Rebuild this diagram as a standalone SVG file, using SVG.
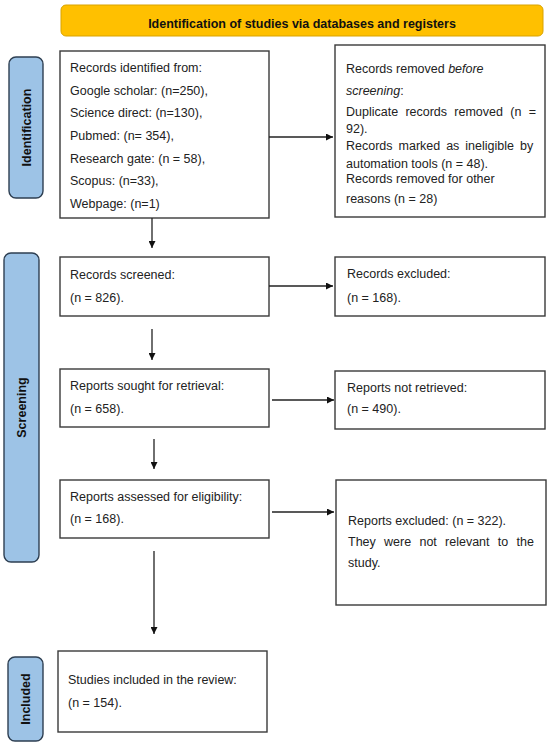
<svg xmlns="http://www.w3.org/2000/svg" width="550" height="746" viewBox="0 0 550 746">
<defs>
<marker id="ah" viewBox="0 0 10 10" refX="10" refY="5" markerWidth="8" markerHeight="7" markerUnits="userSpaceOnUse" orient="auto">
<path d="M0,0 L10,5 L0,10 z" fill="#111"/>
</marker>
<style>
.bx{fill:#fff;stroke:#3a3a3a;stroke-width:1.4}
.lab{fill:#9dc3e6;stroke:#2e3f52;stroke-width:1.4}
.t{font-family:"Liberation Sans",Arial,sans-serif;font-size:12.5px;fill:#222}
.b{font-family:"Liberation Sans",Arial,sans-serif;font-size:12.5px;font-weight:bold;fill:#111}
.c line{stroke:#222;stroke-width:1.3;marker-end:url(#ah)}
</style>
</defs>
<rect width="550" height="746" fill="#fff"/>
<g id="header">
<rect x="61" y="5" width="482" height="31" rx="5" fill="#ffc000" stroke="#d9a300" stroke-width="1"/>
<text class="b" x="302" y="28" text-anchor="middle">Identification of studies via databases and registers</text>
</g>
<g id="lab-identification">
<rect class="lab" x="9" y="57" width="34" height="141" rx="7"/>
<text class="b" transform="translate(31,127.5) rotate(-90)" text-anchor="middle">Identification</text>
</g>
<g id="lab-screening">
<rect class="lab" x="4" y="253" width="35" height="309" rx="7"/>
<text class="b" transform="translate(26,407.5) rotate(-90)" text-anchor="middle">Screening</text>
</g>
<g id="lab-included">
<rect class="lab" x="8" y="657" width="35" height="84" rx="7"/>
<text class="b" transform="translate(30,699) rotate(-90)" text-anchor="middle">Included</text>
</g>
<g id="n-identified">
<rect class="bx" x="60" y="51" width="209" height="167"/>
<text class="t" x="70" y="72">Records identified from:</text>
<text class="t" x="70" y="95">Google scholar: (n=250),</text>
<text class="t" x="70" y="117">Science direct: (n=130),</text>
<text class="t" x="70" y="140">Pubmed: (n= 354),</text>
<text class="t" x="70" y="163">Research gate: (n = 58),</text>
<text class="t" x="70" y="185">Scopus: (n=33),</text>
<text class="t" x="70" y="208">Webpage: (n=1)</text>
</g>
<g id="n-removed">
<rect class="bx" x="335" y="45" width="210" height="172"/>
<text class="t" x="346" y="73">Records removed <tspan font-style="italic">before</tspan></text>
<text class="t" x="346" y="95"><tspan font-style="italic">screening</tspan>:</text>
<text class="t" x="346" y="116" word-spacing="3.8">Duplicate records removed (n =</text>
<text class="t" x="346" y="133">92).</text>
<text class="t" x="346" y="150" word-spacing="2.5">Records marked as ineligible by</text>
<text class="t" x="346" y="168">automation tools (n = 48).</text>
<text class="t" x="346" y="183">Records removed for other</text>
<text class="t" x="346" y="203">reasons (n = 28)</text>
</g>
<g id="n-screened">
<rect class="bx" x="60" y="257" width="209" height="59"/>
<text class="t" x="70" y="279">Records screened:</text>
<text class="t" x="70" y="302">(n = 826).</text>
</g>
<g id="n-excluded">
<rect class="bx" x="335" y="257" width="210" height="59"/>
<text class="t" x="347" y="278">Records excluded:</text>
<text class="t" x="347" y="302">(n = 168).</text>
</g>
<g id="n-sought">
<rect class="bx" x="60" y="369" width="209" height="58"/>
<text class="t" x="70" y="390">Reports sought for retrieval:</text>
<text class="t" x="70" y="413">(n = 658).</text>
</g>
<g id="n-notretrieved">
<rect class="bx" x="335" y="371" width="210" height="58"/>
<text class="t" x="347" y="392">Reports not retrieved:</text>
<text class="t" x="347" y="413">(n = 490).</text>
</g>
<g id="n-assessed">
<rect class="bx" x="60" y="480" width="209" height="58"/>
<text class="t" x="70" y="501">Reports assessed for eligibility:</text>
<text class="t" x="70" y="523">(n = 168).</text>
</g>
<g id="n-reportsexcluded">
<rect class="bx" x="336" y="480" width="210" height="125"/>
<text class="t" x="348" y="525">Reports excluded: (n = 322).</text>
<text class="t" x="348" y="546" word-spacing="4.8">They were not relevant to the</text>
<text class="t" x="348" y="567">study.</text>
</g>
<g id="n-included">
<rect class="bx" x="58" y="651" width="209" height="81"/>
<text class="t" x="68" y="684">Studies included in the review:</text>
<text class="t" x="68" y="707">(n = 154).</text>
</g>
<g id="connectors" class="c">
<line x1="269" y1="137" x2="333" y2="137"/>
<line x1="152" y1="218" x2="152" y2="248"/>
<line x1="269" y1="286" x2="333" y2="286"/>
<line x1="152" y1="329" x2="152" y2="360"/>
<line x1="272" y1="400" x2="334" y2="400"/>
<line x1="154" y1="439" x2="154" y2="469"/>
<line x1="272" y1="512" x2="334" y2="512"/>
<line x1="154" y1="551" x2="154" y2="634"/>
</g>
</svg>
